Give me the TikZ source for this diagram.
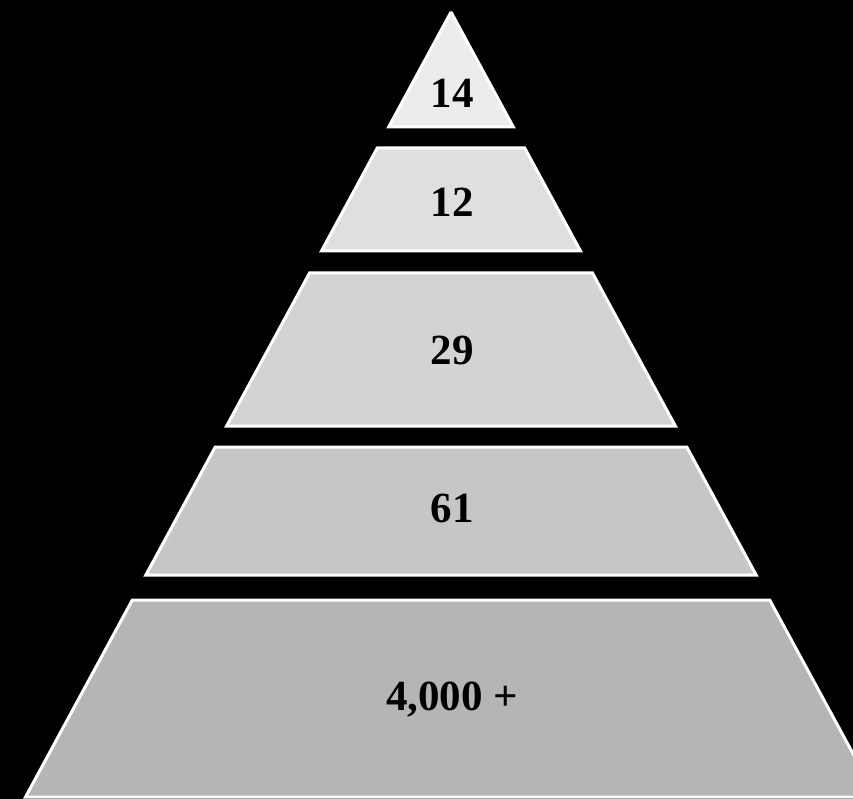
\documentclass[tikz,border=0pt]{standalone}
\usepackage{fontspec}
\setmainfont{Liberation Serif}

\definecolor{niv1}{HTML}{ECECEC}
\definecolor{niv2}{HTML}{DFDFDF}
\definecolor{niv3}{HTML}{D3D3D3}
\definecolor{niv4}{HTML}{C6C6C6}
\definecolor{niv5}{HTML}{B5B5B5}

\tikzset{
  niveau/.style={fill=#1, draw=white, line width=3pt, line join=miter},
  etiquette/.style={font=\fontsize{43}{47}\selectfont\bfseries, text=black}
}

\begin{document}
\begin{tikzpicture}[x=1pt, y=-1pt]
    % Fond
    \fill[black] (0,0) rectangle (853,799);
    \useasboundingbox (0,0) rectangle (853,799);

    % Niveaux de la pyramide (haut, bas, couleur, nom, position du texte, texte)
    \foreach \haut/\bas/\coul/\nom/\ty/\texte in
        {13/127/niv1/n1/93/14,
         148/251/niv2/n2/202/12,
         273/426/niv3/n3/350/29,
         447/575/niv4/n4/508/61,
         600/797/niv5/n5/700/{4,000 +}}
    {
        \draw[niveau=\coul] ({451-0.542*(\haut-12)},\haut) -- ({451+0.542*(\haut-12)},\haut)
            -- ({451+0.542*(\bas-12)},\bas) -- ({451-0.542*(\bas-12)},\bas) -- cycle;
        \node[etiquette] (\nom) at (452,\ty) {\texte};
    }
\end{tikzpicture}
\end{document}
